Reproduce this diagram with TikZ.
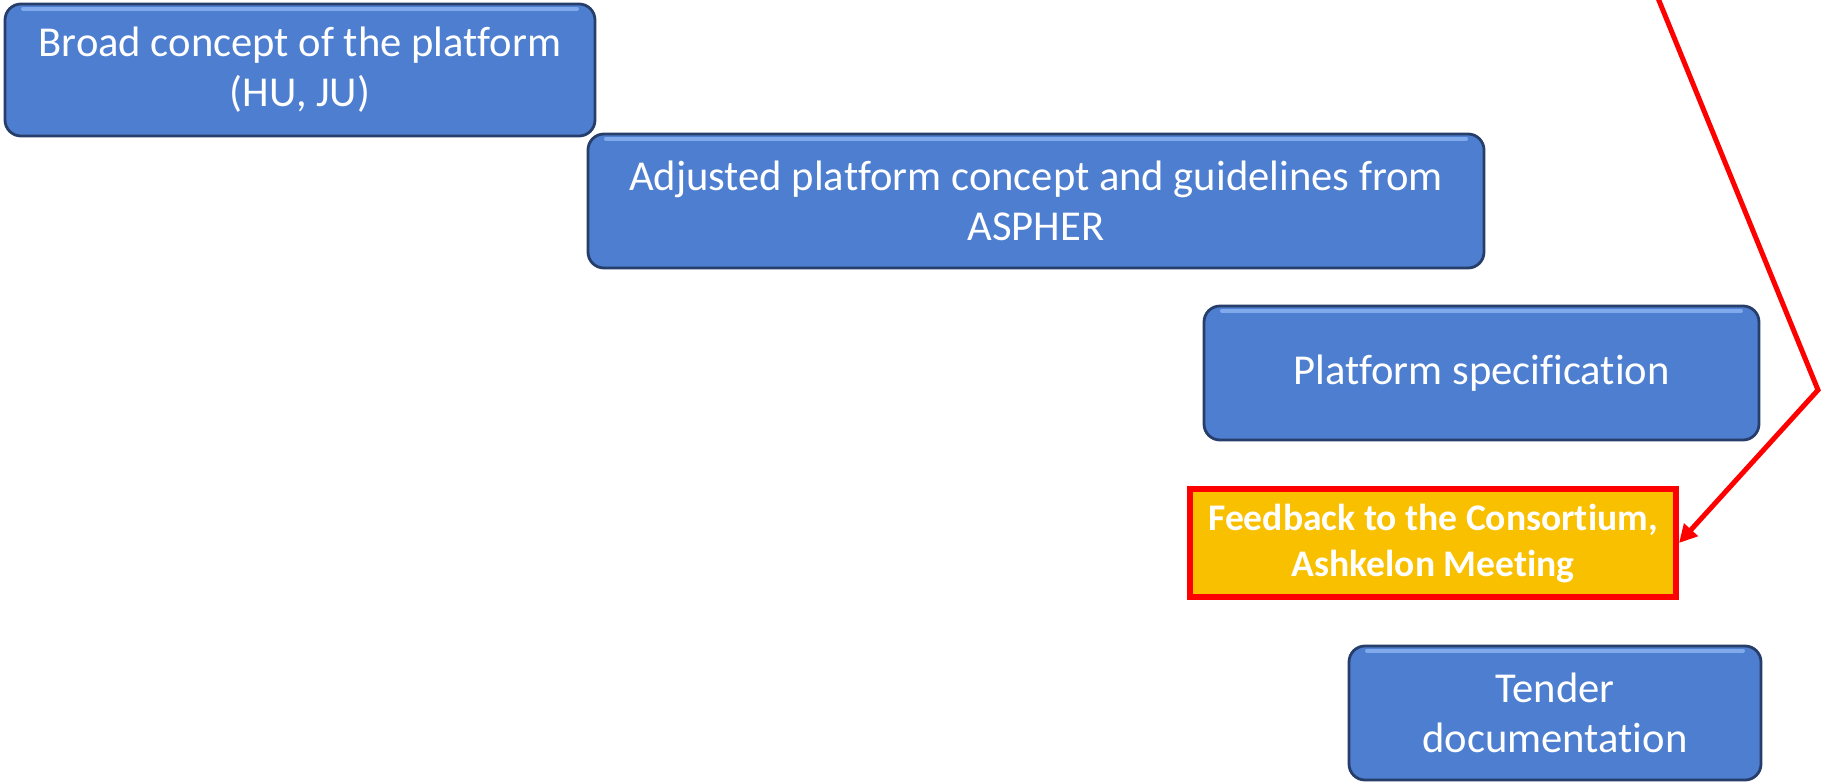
\documentclass[tikz,border=0pt]{standalone}
\usepackage{fontspec}
\setmainfont{Carlito}[Ligatures={NoCommon,NoContextual}]
\usetikzlibrary{arrows.meta}
\newcommand\nolig{\kern0pt}
\definecolor{boxblue}{RGB}{77,126,207}
\definecolor{boxedge}{RGB}{38,62,105}
\definecolor{boxlight}{RGB}{128,170,235}
\definecolor{fbfill}{RGB}{249,192,0}
\definecolor{redline}{RGB}{255,0,0}
\tikzset{
  bluebox/.style={draw=boxedge, line width=1.4pt, fill=boxblue, rounded corners=8pt,
    inner sep=0pt, align=center, text=white,
    font=\fontsize{21.3pt}{25pt}\selectfont,
    path picture={
      \draw[boxlight, line width=2pt, line cap=round]
        ([xshift=9pt,yshift=-2.4pt]path picture bounding box.north west) --
        ([xshift=-9pt,yshift=-2.4pt]path picture bounding box.north east);
    }},
  fbbox/.style={draw=redline, line width=3pt, fill=fbfill, inner sep=0pt,
    align=center, text=white, font=\bfseries\fontsize{18.8pt}{23pt}\selectfont},
  redarrow/.style={draw=redline, line width=2.5pt, line join=miter,
    -{Triangle[length=9pt,width=9pt]}}
}
\begin{document}
\begin{tikzpicture}[x=0.5pt,y=-0.5pt]
\clip (0,0) rectangle (1822,782);
\fill[white] (0,0) rectangle (1822,782);
\node[bluebox, minimum width=295pt, minimum height=66pt] (b1) at (300,70)
  {Broad concept of the plat\nolig form\\(HU, JU)};
\node[bluebox, minimum width=448pt, minimum height=67pt] (b2) at (1036,201)
  {Adjusted plat\nolig form concept and guidelines from\\ASPHER};
\node[bluebox, minimum width=277.5pt, minimum height=67pt] (b3) at (1481.5,373)
  {Plat\nolig form speci\nolig f\nolig icat\nolig ion};
\node[fbbox, minimum width=243pt, minimum height=54pt] (fb) at (1433,543)
  {Feedback to the Consort\nolig ium,\\Ashkelon Meet\nolig ing};
\node[bluebox, minimum width=206pt, minimum height=67pt] (b5) at (1555,713)
  {Tender\\documentat\nolig ion};
\coordinate (top) at (1651,-19);
\coordinate (bend) at (1818,390);
\draw[redarrow] (top) -- (bend) -- (fb.east);
\end{tikzpicture}
\end{document}
